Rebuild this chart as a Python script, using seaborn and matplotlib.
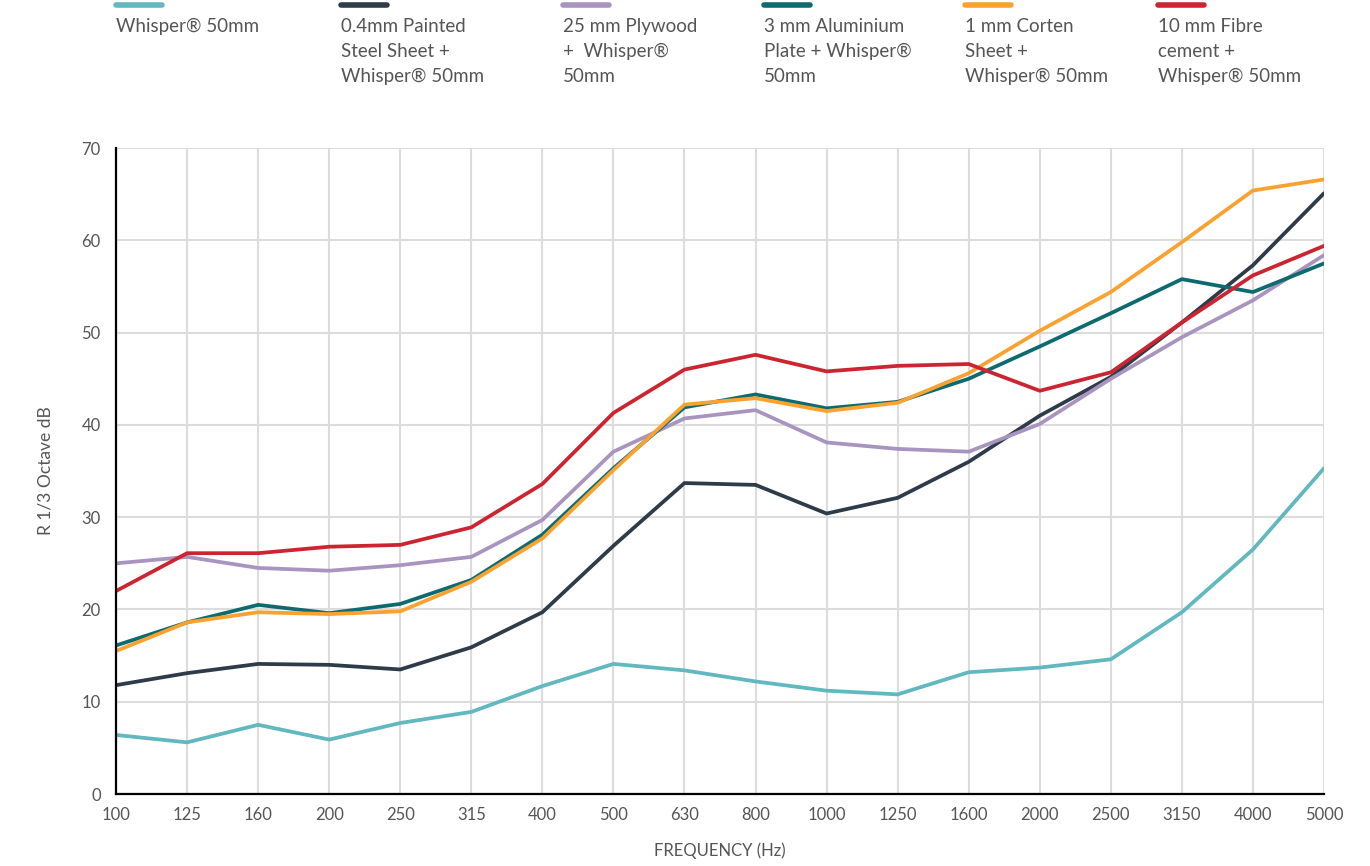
import pandas as pd
import matplotlib.pyplot as plt
import seaborn as sns
from matplotlib.lines import Line2D

# Frequency bands (Hz) and R values (dB)
freqs = ["100", "125", "160", "200", "250", "315", "400", "500", "630",
         "800", "1000", "1250", "1600", "2000", "2500", "3150", "4000", "5000"]

whisper = [6.4, 5.6, 7.5, 5.9, 7.7, 8.9, 11.7, 14.1, 13.4,
           12.2, 11.2, 10.8, 13.2, 13.7, 14.6, 19.7, 26.5, 35.3]
steel = [11.8, 13.1, 14.1, 14.0, 13.5, 15.9, 19.7, 26.9, 33.7,
         33.5, 30.4, 32.1, 36.0, 41.0, 45.2, 51.1, 57.3, 65.1]
plywood = [25.0, 25.7, 24.5, 24.2, 24.8, 25.7, 29.7, 37.1, 40.7,
           41.6, 38.1, 37.4, 37.1, 40.1, 45.0, 49.5, 53.5, 58.4]
aluminium = [16.1, 18.6, 20.5, 19.6, 20.6, 23.2, 28.1, 35.3, 41.9,
             43.3, 41.8, 42.5, 45.0, 48.5, 52.1, 55.8, 54.4, 57.5]
corten = [15.5, 18.6, 19.7, 19.5, 19.8, 23.0, 27.7, 35.1, 42.2,
          42.9, 41.5, 42.4, 45.6, 50.2, 54.4, 59.8, 65.4, 66.6]
fibre = [22.0, 26.1, 26.1, 26.8, 27.0, 28.9, 33.6, 41.3, 46.0,
         47.6, 45.8, 46.4, 46.6, 43.7, 45.7, 51.1, 56.2, 59.4]

labels = ["Whisper\u00ae 50mm",
          "0.4mm Painted\nSteel Sheet +\nWhisper\u00ae 50mm",
          "25 mm Plywood\n+  Whisper\u00ae\n50mm",
          "3 mm Aluminium\nPlate + Whisper\u00ae\n50mm",
          "1 mm Corten\nSheet +\nWhisper\u00ae 50mm",
          "10 mm Fibre\ncement +\nWhisper\u00ae 50mm"]
colors = ["#62b8bf", "#2e3b48", "#a994c0", "#0d6b70", "#f9a22f", "#cc2531"]
series = [whisper, steel, plywood, aluminium, corten, fibre]

rows = []
for lab, vals in zip(labels, series):
    for f, v in zip(freqs, vals):
        rows.append({"freq": f, "R": v, "product": lab})
df = pd.DataFrame(rows)

sns.set_theme(style="white")
plt.rcParams['font.family'] = ['Lato', 'DejaVu Sans']
text_col = "#555555"

fig = plt.figure(figsize=(13.7, 8.66), dpi=100)
ax = fig.add_axes([0.0847, 0.0831, 0.8817, 0.7459])

sns.lineplot(data=df, x="freq", y="R", hue="product", palette=colors,
             linewidth=2.7, sort=False, legend=False, ax=ax)

ax.set_xlim(0, len(freqs) - 1)
ax.set_ylim(0, 70)
ax.set_yticks(range(0, 71, 10))
ax.grid(True, color="#dcdcdc", linewidth=1.5)
ax.set_axisbelow(True)
for s in ["top", "right"]:
    ax.spines[s].set_visible(False)
for s in ["left", "bottom"]:
    ax.spines[s].set_color("black")
    ax.spines[s].set_linewidth(1.6)
ax.tick_params(axis="y", direction="in", length=5, width=1.2, color="black",
               pad=11, labelsize=12, labelcolor=text_col)
ax.tick_params(axis="x", direction="in", length=5, width=1.2, color="black",
               pad=9, labelsize=12, labelcolor=text_col)
ax.set_xlabel("FREQUENCY (Hz)", fontsize=12, color=text_col, labelpad=14)
ax.set_ylabel("R 1/3 Octave dB", fontsize=12.5, color=text_col, labelpad=20)

# legend across the top: coloured bar above each label
leg_x = [116, 341, 563, 764, 965, 1158]
W, H = 1370, 866
for x0, lab, c in zip(leg_x, labels, colors):
    fig.add_artist(Line2D([x0 / W, (x0 + 46) / W], [1 - 5 / H, 1 - 5 / H],
                          color=c, linewidth=4, solid_capstyle="round"))
    fig.text(x0 / W, 1 - 18 / H, lab, fontsize=13.5, color=text_col,
             va="top", ha="left", linespacing=1.55)

fig.savefig("out.png", dpi=100)
